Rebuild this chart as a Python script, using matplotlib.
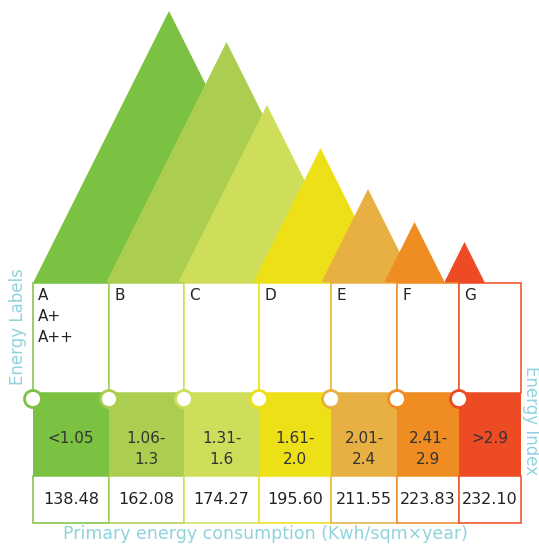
import matplotlib.pyplot as plt
from matplotlib.patches import Polygon, Rectangle, Circle

# classes and values
classes = ['A', 'B', 'C', 'D', 'E', 'F', 'G']
class_text = ['A\nA+\nA++', 'B', 'C', 'D', 'E', 'F', 'G']
index_ranges = ['<1.05', '1.06-\n1.3', '1.31-\n1.6', '1.61-\n2.0', '2.01-\n2.4', '2.41-\n2.9', '>2.9']
consumption = [138.48, 162.08, 174.27, 195.60, 211.55, 223.83, 232.10]
peak_heights = [272, 241, 178, 135, 94, 61, 41]
colors = ['#7bc142', '#abce50', '#cede5a', '#eee017', '#e8b042', '#ef8c22', '#ec4b24']

# layout (pixels)
col_edges = [33, 109, 184, 259, 331, 397, 459, 521]
peak_left = [33, 106, 178, 253, 321, 384, 444]
base_y = 283
index_top, index_bot = 393, 476
value_bot = 523
label_col = '#8fd3dc'

fig = plt.figure(figsize=(5.39, 5.47), dpi=100)
ax = fig.add_axes([0, 0, 1, 1])
ax.set_xlim(0, 539)
ax.set_ylim(547, 0)
ax.axis('off')

# mountains
for i, h in enumerate(peak_heights):
    half = h / 2
    x0 = peak_left[i]
    tri = Polygon([(x0, base_y), (x0 + half, base_y - h), (x0 + 2 * half, base_y)],
                  closed=True, facecolor=colors[i], edgecolor='none', zorder=1 + i)
    ax.add_patch(tri)

# table columns
for i, c in enumerate(classes):
    x0, x1 = col_edges[i], col_edges[i + 1]
    w = x1 - x0
    ax.add_patch(Rectangle((x0, base_y), w, index_top - base_y, facecolor='white',
                           edgecolor=colors[i], lw=1.1, zorder=10))
    ax.add_patch(Rectangle((x0, index_top), w, index_bot - index_top, facecolor=colors[i],
                           edgecolor='none', zorder=10))
    ax.add_patch(Rectangle((x0, index_bot), w, value_bot - index_bot, facecolor='white',
                           edgecolor=colors[i], lw=1.1, zorder=11))
    ax.text(x0 + 5, base_y + 5, class_text[i], ha='left', va='top', fontsize=11,
            color='#222222', linespacing=1.5, zorder=12)
    ax.text((x0 + x1) / 2, 431, index_ranges[i], ha='center',
            va='top', fontsize=11, color='#333333', linespacing=1.5, zorder=12)
    ax.text((x0 + x1) / 2, (index_bot + value_bot) / 2, f'{consumption[i]:.2f}', ha='center',
            va='center', fontsize=11.5, color='#222222', zorder=12)
    ax.add_patch(Circle((x0, 399), 8.5, facecolor='white', edgecolor=colors[i],
                        lw=2, zorder=13))

ax.text(18, 327, 'Energy Labels', rotation=90, ha='center', va='center',
        fontsize=12, color=label_col)
ax.text(531, 421, 'Energy Index', rotation=-90, ha='center', va='center',
        fontsize=12, color=label_col)
ax.text(265, 534, 'Primary energy consumption (Kwh/sqm\u00d7year)', ha='center', va='center',
        fontsize=12.5, color=label_col)

fig.savefig('out.png', dpi=100)
